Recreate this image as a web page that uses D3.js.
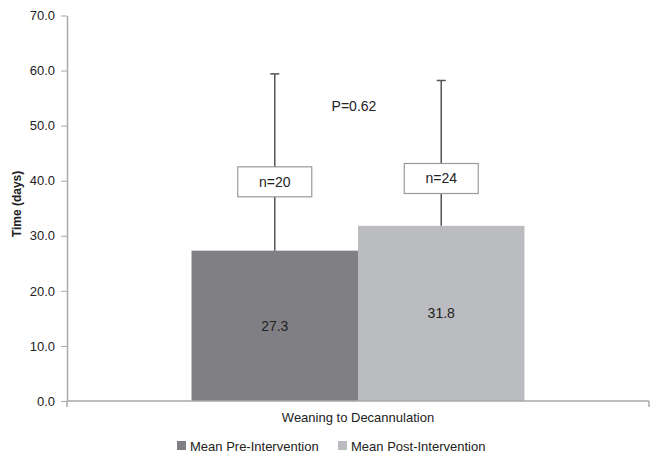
<!DOCTYPE html>
<html>
<head>
<meta charset="utf-8">
<script src="https://cdn.jsdelivr.net/npm/d3@7"></script>
<style>
  body { margin: 0; background: #fff; }
  text { font-family: "Liberation Sans", Arial, Helvetica, sans-serif; fill: #222; }
</style>
</head>
<body>
<div id="chart"></div>
<script>
// data
const category = "Weaning to Decannulation";
const groups = ["Mean Pre-Intervention", "Mean Post-Intervention"];
const means = [27.3, 31.8];
const upperError = [59.4, 58.2];
const counts = ["n=20", "n=24"];
const countBoxMid = [39.8, 40.4];
const pValue = "P=0.62";
const yTicks = [0, 10, 20, 30, 40, 50, 60, 70];

const colors = ["#808084", "#bbbcc0"];
const width = 660, height = 462;

const svg = d3.select("#chart").append("svg")
    .attr("width", width)
    .attr("height", height);

const y = d3.scaleLinear().domain([0, 70]).range([401, 15.5]);
const xOuter = d3.scaleBand().domain([category]).range([67, 649]).paddingInner(0).paddingOuter(0.374);
const x = d3.scaleBand().domain(groups).range([xOuter(category), xOuter(category) + xOuter.bandwidth()]);

// y axis
const yAxis = svg.append("g")
    .attr("transform", "translate(67,0)")
    .call(d3.axisLeft(y).tickValues(yTicks).tickFormat(d3.format(".1f")).tickSize(6).tickSizeOuter(0));
yAxis.select(".domain").attr("stroke", "#a8a8a8").attr("stroke-width", 1.5);
yAxis.selectAll(".tick line").attr("stroke", "#a8a8a8").attr("stroke-width", 1);
yAxis.selectAll(".tick text").attr("x", -12).attr("font-size", 13)
    .style("font-family", "'Liberation Sans', Arial, sans-serif").attr("fill", "#222");

svg.append("text")
    .attr("transform", "translate(21,204) rotate(-90)")
    .attr("text-anchor", "middle")
    .attr("font-size", 12)
    .attr("font-weight", "bold")
    .text("Time (days)");

// bars
svg.selectAll(".bar").data(groups).join("rect")
    .attr("class", "bar")
    .attr("x", d => x(d))
    .attr("width", x.bandwidth())
    .attr("y", (d, i) => y(means[i]))
    .attr("height", (d, i) => y(0) - y(means[i]))
    .attr("fill", (d, i) => colors[i]);

// x axis
svg.append("line")
    .attr("x1", 67).attr("x2", 649)
    .attr("y1", y(0)).attr("y2", y(0))
    .attr("stroke", "#a8a8a8").attr("stroke-width", 1.5);
[67, 649].forEach(px => svg.append("line")
    .attr("x1", px).attr("x2", px)
    .attr("y1", y(0)).attr("y2", y(0) + 6)
    .attr("stroke", "#a8a8a8").attr("stroke-width", 1.5));

// error bars
const cx = d => x(d) + x.bandwidth() / 2;
svg.selectAll(".err").data(groups).join("line")
    .attr("class", "err")
    .attr("x1", cx).attr("x2", cx)
    .attr("y1", (d, i) => y(means[i]))
    .attr("y2", (d, i) => y(upperError[i]))
    .attr("stroke", "#555").attr("stroke-width", 1.5);
svg.selectAll(".cap").data(groups).join("line")
    .attr("class", "cap")
    .attr("x1", d => cx(d) - 4.5).attr("x2", d => cx(d) + 4.5)
    .attr("y1", (d, i) => y(upperError[i]))
    .attr("y2", (d, i) => y(upperError[i]))
    .attr("stroke", "#555").attr("stroke-width", 1.5);

// n boxes
svg.selectAll(".nbox").data(groups).join("rect")
    .attr("class", "nbox")
    .attr("x", d => cx(d) - 37)
    .attr("width", 74)
    .attr("y", (d, i) => y(countBoxMid[i]) - 15)
    .attr("height", 30)
    .attr("fill", "#fff").attr("stroke", "#999").attr("stroke-width", 1.2);
svg.selectAll(".ntext").data(groups).join("text")
    .attr("class", "ntext")
    .attr("x", cx)
    .attr("y", (d, i) => y(countBoxMid[i]))
    .attr("dy", "0.35em")
    .attr("text-anchor", "middle")
    .attr("font-size", 14)
    .text((d, i) => counts[i]);

// value labels
svg.selectAll(".val").data(groups).join("text")
    .attr("class", "val")
    .attr("x", cx)
    .attr("y", (d, i) => y(means[i] / 2))
    .attr("dy", "0.35em")
    .attr("text-anchor", "middle")
    .attr("font-size", 14)
    .text((d, i) => means[i].toFixed(1));

svg.append("text")
    .attr("x", 354).attr("y", 111)
    .attr("text-anchor", "middle")
    .attr("font-size", 14)
    .text(pValue);

svg.append("text")
    .attr("x", xOuter(category) + xOuter.bandwidth() / 2).attr("y", 422)
    .attr("text-anchor", "middle")
    .attr("font-size", 13)
    .text(category);

// legend
const legendX = [177, 338];
const legend = svg.selectAll(".leg").data(groups).join("g")
    .attr("class", "leg")
    .attr("transform", (d, i) => `translate(${legendX[i]},441)`);
legend.append("rect").attr("width", 9).attr("height", 9).attr("fill", (d, i) => colors[i]);
legend.append("text").attr("x", 13).attr("y", 9.5).attr("font-size", 13).text(d => d);
</script>
</body>
</html>
